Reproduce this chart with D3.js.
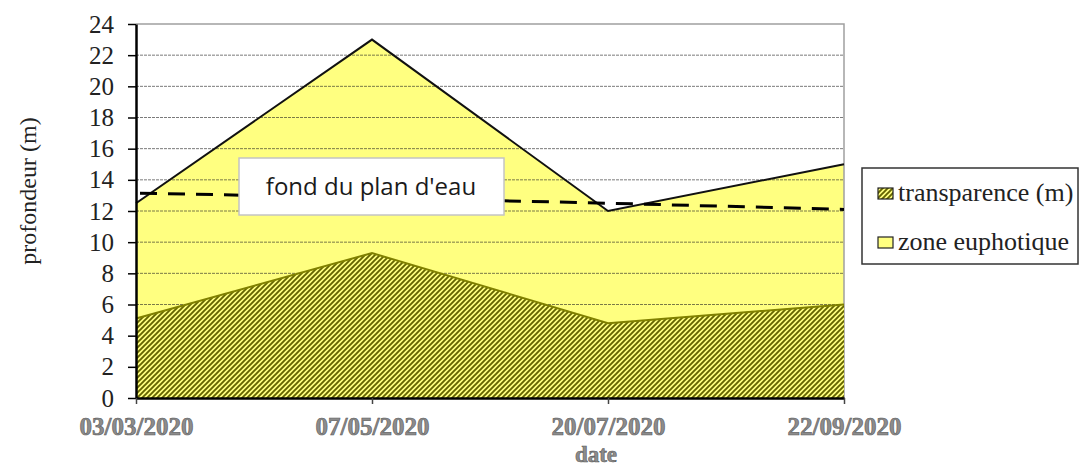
<!DOCTYPE html>
<html>
<head>
<meta charset="utf-8">
<script src="https://cdn.jsdelivr.net/npm/d3@7"></script>
<style>
  body { margin: 0; background: #fff; }
  svg { display: block; }
</style>
</head>
<body>
<svg id="chart" width="1080" height="466"></svg>
<script>
// data
const dates = ["03/03/2020", "07/05/2020", "20/07/2020", "22/09/2020"];
const zoneEuphotique = [12.5, 23, 12, 15];
const transparence = [5.1, 9.3, 4.8, 6.0];
const fondPlanEau = [13.15, 12.85, 12.5, 12.1];
const yTickValues = [0, 2, 4, 6, 8, 10, 12, 14, 16, 18, 20, 22, 24];
const legendLabels = ["transparence (m)", "zone euphotique"];

let svg = d3.select("#chart");
const SERIF = "'Liberation Serif', 'DejaVu Serif', serif";

let x = d3.scalePoint().domain(dates).range([136, 844]).padding(0);
let y = d3.scaleLinear().domain([0, 24]).range([398, 24]);

let rows = dates.map(function(d, i) {
    return { date: d, zone: zoneEuphotique[i], trans: transparence[i], fond: fondPlanEau[i] };
});

// hatch pattern for transparence
let defs = svg.append("defs");
let pat = defs.append("pattern")
    .attr("id", "hatch")
    .attr("patternUnits", "userSpaceOnUse")
    .attr("width", 5).attr("height", 5);
pat.append("rect").attr("width", 5).attr("height", 5).attr("fill", "#ffff80");
pat.append("path")
    .attr("d", "M-1,1 L1,-1 M0,5 L5,0 M4,6 L6,4")
    .attr("stroke", "#646400")
    .attr("stroke-width", 1.9);

// zone euphotique area
let areaZone = d3.area()
    .x(d => x(d.date))
    .y0(y(0))
    .y1(d => y(d.zone));
svg.append("path")
    .datum(rows)
    .attr("d", areaZone)
    .attr("fill", "#ffff80");

// gridlines
svg.append("g")
    .selectAll("line")
    .data(yTickValues.filter(v => v > 0 && v < 24))
    .enter()
    .append("line")
    .attr("x1", 136).attr("x2", 844)
    .attr("y1", d => y(d)).attr("y2", d => y(d))
    .attr("stroke", "#222")
    .attr("stroke-opacity", 0.6)
    .attr("stroke-width", 1)
    .attr("stroke-dasharray", "3,1");

// plot border top/right
svg.append("path")
    .attr("d", "M136," + y(24) + "H844V" + y(0))
    .attr("fill", "none")
    .attr("stroke", "#a0a0a0")
    .attr("stroke-width", 1.5);

// transparence hatched area
let areaTrans = d3.area()
    .x(d => x(d.date))
    .y0(y(0))
    .y1(d => y(d.trans));
svg.append("path")
    .datum(rows)
    .attr("d", areaTrans)
    .attr("fill", "url(#hatch)");
svg.append("path")
    .datum(rows)
    .attr("d", d3.line().x(d => x(d.date)).y(d => y(d.trans)))
    .attr("fill", "none")
    .attr("stroke", "#808000")
    .attr("stroke-width", 2);

// zone euphotique outline
svg.append("path")
    .datum(rows)
    .attr("d", d3.line().x(d => x(d.date)).y(d => y(d.zone)))
    .attr("fill", "none")
    .attr("stroke", "#111")
    .attr("stroke-width", 2);

// fond du plan d'eau (dashed)
svg.append("path")
    .datum(rows)
    .attr("d", d3.line().x(d => x(d.date)).y(d => y(d.fond)))
    .attr("fill", "none")
    .attr("stroke", "#000")
    .attr("stroke-width", 3)
    .attr("stroke-dasharray", "17,11")
    .attr("stroke-dashoffset", -4);

// label box
svg.append("rect")
    .attr("x", 239).attr("y", 158)
    .attr("width", 265).attr("height", 57)
    .attr("fill", "#fff")
    .attr("stroke", "#c4c4c4")
    .attr("stroke-width", 1.5);
svg.append("text")
    .attr("x", 371).attr("y", 195)
    .attr("text-anchor", "middle")
    .style("font-family", "'Open Sans', 'Noto Sans', sans-serif")
    .style("font-size", "24px")
    .attr("fill", "#1a1a1a")
    .text("fond du plan d'eau");

// axes
let yAxis = svg.append("g")
    .attr("transform", "translate(136,0)")
    .call(d3.axisLeft(y).tickValues(yTickValues).tickSize(8).tickPadding(14).tickSizeOuter(0))
    .attr("font-family", SERIF)
    .attr("font-size", 25);
yAxis.select(".domain").attr("stroke", "#000").attr("stroke-width", 2.5);
yAxis.selectAll(".tick line").attr("stroke", "#000").attr("stroke-width", 1.5);
yAxis.selectAll("text").attr("fill", "#222");

let xAxis = svg.append("g")
    .attr("transform", "translate(0," + y(0) + ")")
    .call(d3.axisBottom(x).tickSize(6).tickPadding(13).tickSizeOuter(0))
    .attr("font-family", SERIF)
    .attr("font-size", 25);
xAxis.select(".domain").attr("stroke", "#000").attr("stroke-width", 2.5);
xAxis.selectAll(".tick line").attr("stroke", "#444").attr("stroke-width", 1.5);
xAxis.selectAll("text")
    .style("font-weight", "bold")
    .attr("fill", "#8c8c8c")
    .attr("stroke", "#5a5a5a")
    .attr("stroke-width", 0.6);

// axis titles
svg.append("text")
    .attr("transform", "translate(36,191) rotate(-90)")
    .attr("text-anchor", "middle")
    .style("font-family", SERIF)
    .style("font-size", "24px")
    .attr("fill", "#222")
    .text("profondeur (m)");

svg.append("text")
    .attr("x", 596).attr("y", 462)
    .attr("text-anchor", "middle")
    .style("font-family", SERIF)
    .style("font-size", "23px")
    .style("font-weight", "bold")
    .attr("fill", "#8c8c8c")
    .attr("stroke", "#5a5a5a")
    .attr("stroke-width", 0.6)
    .text("date");

// legend
let legend = svg.append("g");
legend.append("rect")
    .attr("x", 862).attr("y", 168)
    .attr("width", 216).attr("height", 96)
    .attr("fill", "#fff")
    .attr("stroke", "#333")
    .attr("stroke-width", 1.5);

let swatchFills = ["url(#hatch)", "#ffff80"];
let item = legend.selectAll(".item")
    .data(legendLabels)
    .enter()
    .append("g")
    .attr("class", "item")
    .attr("transform", (d, i) => "translate(878," + (188 + i * 49) + ")");
item.append("rect")
    .attr("width", 15).attr("height", 11)
    .attr("fill", (d, i) => swatchFills[i])
    .attr("stroke", "#222")
    .attr("stroke-width", 1.2);
item.append("text")
    .attr("x", 20).attr("y", 13)
    .style("font-family", SERIF)
    .style("font-size", "26px")
    .attr("fill", "#222")
    .text(d => d);
</script>
</body>
</html>
